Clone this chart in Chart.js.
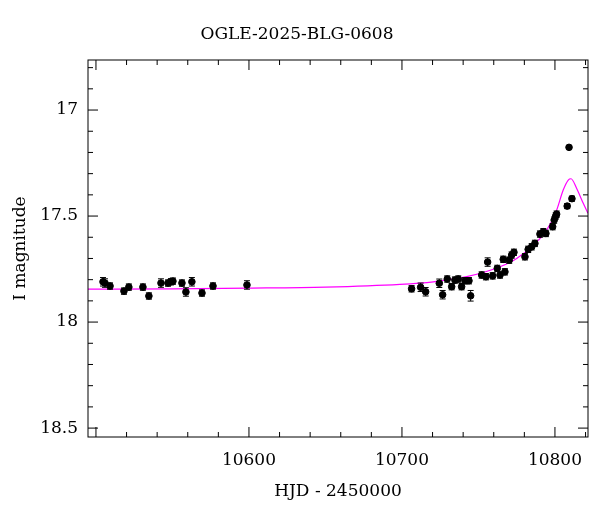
<!DOCTYPE html>
<html>
<head>
<meta charset="utf-8">
<script src="https://cdn.jsdelivr.net/npm/chart.js@4"></script>
<style>
  body { margin: 0; background: #fff; }
  #wrap { width: 600px; height: 512px; }
</style>
</head>
<body>
<div id="wrap"><canvas id="grafica"></canvas></div>
<script>
// datos (fotometria OGLE)
    const hjd = [10504.6, 10505.9, 10509.2, 10518.3, 10521.5, 10530.7, 10534.6, 10542.5, 10547.1, 10549.0, 10550.3, 10556.2, 10558.8, 10562.7, 10569.3, 10576.5, 10598.7,
        10706.3, 10712.2, 10715.5, 10724.4, 10726.6, 10729.6, 10732.5, 10734.6, 10736.8, 10739.0, 10741.2, 10743.8, 10744.9,
        10752.1, 10754.9, 10756.0, 10759.3, 10762.3, 10764.1, 10766.2, 10767.3, 10770.1, 10771.7, 10773.2,
        10780.4, 10782.5, 10784.8, 10786.9, 10790.2, 10792.4, 10794.1, 10798.5, 10799.5, 10800.5, 10801.1,
        10808.0, 10809.2, 10811.1];
    const mag = [17.81, 17.816, 17.83, 17.854, 17.835, 17.835, 17.877, 17.816, 17.816, 17.81, 17.807, 17.816, 17.858, 17.81, 17.863, 17.83, 17.825,
        17.843, 17.836, 17.857, 17.817, 17.871, 17.797, 17.833, 17.802, 17.797, 17.833, 17.805, 17.805, 17.876,
        17.778, 17.786, 17.717, 17.782, 17.747, 17.778, 17.704, 17.763, 17.708, 17.684, 17.671,
        17.692, 17.657, 17.645, 17.629, 17.585, 17.574, 17.582, 17.55, 17.519, 17.5, 17.491,
        17.453, 17.176, 17.418];
    const err = [0.02, 0.02, 0.015, 0.015, 0.015, 0.015, 0.015, 0.02, 0.015, 0.015, 0.015, 0.015, 0.02, 0.02, 0.015, 0.015, 0.02,
        0.015, 0.02, 0.02, 0.02, 0.02, 0.015, 0.015, 0.015, 0.015, 0.015, 0.015, 0.015, 0.025,
        0.015, 0.015, 0.02, 0.015, 0.015, 0.015, 0.015, 0.015, 0.015, 0.015, 0.015,
        0.015, 0.015, 0.015, 0.015, 0.015, 0.015, 0.015, 0.015, 0.015, 0.015, 0.015,
        0.012, 0.007, 0.012];

// modelo (curva magenta)
    const modelT = [10494.8, 10550, 10600, 10650, 10698.7, 10720.5, 10742.3, 10764.1, 10775, 10785.8, 10794.6, 10801.1, 10805.4, 10808.7, 10810.5, 10814.2, 10818.5, 10821.6];
    const modelM = [17.845, 17.843, 17.84, 17.835, 17.822, 17.81, 17.786, 17.739, 17.7, 17.637, 17.566, 17.472, 17.377, 17.33, 17.324, 17.37, 17.44, 17.487];

// ejes
    const xTicks = [10600, 10700, 10800];
    const yTicks = [17, 17.5, 18, 18.5];
    const xMin = 10494.8, xMax = 10821.6, yMin = 16.764, yMax = 18.542;

    const FONT = "'DejaVu Serif', 'Liberation Serif', serif";

//Barras de error y marcos
    const errBars = {
        id: 'errBars',
        afterDatasetsDraw(chart) {
            const c = chart.ctx, xs = chart.scales.x, ys = chart.scales.y;
            c.save();
            c.strokeStyle = '#000';
            c.lineWidth = 1;
            for (let i = 0; i < hjd.length; i++) {
                let px = xs.getPixelForValue(hjd[i]);
                let y1 = ys.getPixelForValue(mag[i] - err[i]);
                let y2 = ys.getPixelForValue(mag[i] + err[i]);
                c.beginPath();
                c.moveTo(px, y1); c.lineTo(px, y2);
                c.moveTo(px - 3, y1); c.lineTo(px + 3, y1);
                c.moveTo(px - 3, y2); c.lineTo(px + 3, y2);
                c.stroke();
            }
            // marco y ticks hacia adentro
            const a = chart.chartArea;
            c.strokeRect(a.left, a.top, a.right - a.left, a.bottom - a.top);
            c.beginPath();
            for (let v = 10500; v <= xMax; v += 20) {
                let px = xs.getPixelForValue(v);
                let L = (v % 100 === 0) ? 10 : 5;
                c.moveTo(px, a.bottom); c.lineTo(px, a.bottom - L);
                c.moveTo(px, a.top); c.lineTo(px, a.top + L);
            }
            for (let k = 168; k <= 185; k++) {
                let v = k / 10;
                let py = ys.getPixelForValue(v);
                let L = (k % 5 === 0) ? 10 : 5;
                c.moveTo(a.left, py); c.lineTo(a.left + L, py);
                c.moveTo(a.right, py); c.lineTo(a.right - L, py);
            }
            c.stroke();
            c.restore();
        }
    };

//Grafica
    const ctx = document.getElementById('grafica').getContext('2d');
    let chart = new Chart(ctx, {
        type: 'scatter',
        data: {
            datasets: [{
                type: 'line',
                data: modelT.map((t, i) => ({ x: t, y: modelM[i] })),
                borderColor: '#ff00ff',
                borderWidth: 1.2,
                pointRadius: 0,
                tension: 0.4,
                cubicInterpolationMode: 'monotone',
                order: 2
            }, {
                data: hjd.map((t, i) => ({ x: t, y: mag[i] })),
                backgroundColor: '#000',
                borderColor: '#000',
                pointRadius: 3.3,
                order: 1
            }]
        },
        options: {
            responsive: true,
            maintainAspectRatio: false,
            animation: false,
            layout: { padding: { right: 12, left: 6 } },
            plugins: {
                legend: { display: false },
                tooltip: { enabled: false },
                title: {
                    display: true,
                    text: 'OGLE-2025-BLG-0608',
                    color: '#000',
                    font: { family: FONT, size: 17, weight: 'normal' },
                    padding: { top: 24, bottom: 15.6 }
                }
            },
            scales: {
                x: {
                    type: 'linear', min: xMin, max: xMax,
                    grid: { display: false, drawTicks: false },
                    border: { display: false },
                    afterBuildTicks: s => { s.ticks = xTicks.map(v => ({ value: v })); },
                    afterFit: s => { s.height = 75; },
                    ticks: { color: '#000', font: { family: FONT, size: 17 }, padding: 13, callback: v => String(v) },
                    title: { display: true, text: 'HJD - 2450000', color: '#000', font: { family: FONT, size: 17 }, padding: { top: 2, bottom: 10 } }
                },
                y: {
                    type: 'linear', min: yMin, max: yMax, reverse: true,
                    grid: { display: false, drawTicks: false },
                    border: { display: false },
                    afterBuildTicks: s => { s.ticks = yTicks.map(v => ({ value: v })); },
                    afterFit: s => { s.width = 82; },
                    ticks: { color: '#000', font: { family: FONT, size: 17 }, padding: 10, callback: v => String(v) },
                    title: { display: true, text: 'I magnitude', color: '#000', font: { family: FONT, size: 17 }, padding: { bottom: 4 } }
                }
            }
        },
        plugins: [errBars]
    });
</script>
</body>
</html>
